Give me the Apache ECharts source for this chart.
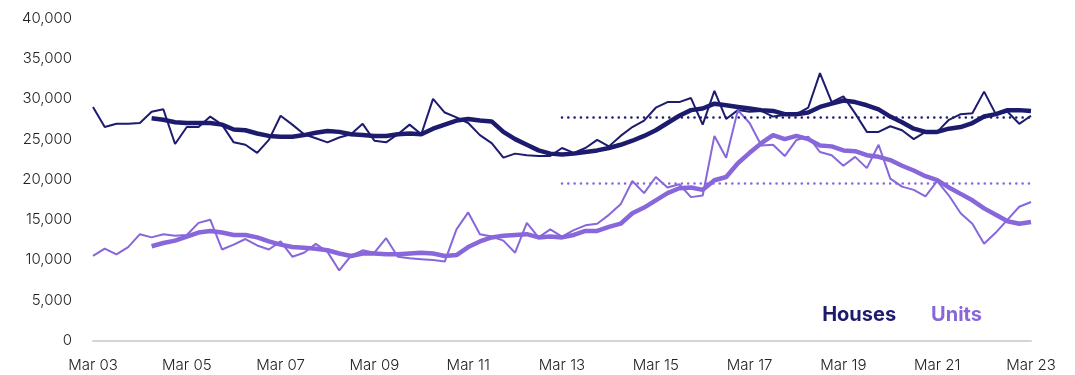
<!DOCTYPE html>
<html>
<head>
<meta charset="utf-8">
<script src="https://cdn.jsdelivr.net/npm/echarts@6/dist/echarts.min.js"></script>
<style>
html,body{margin:0;padding:0;background:#fff;}
#chart{width:1075px;height:375px;}
</style>
</head>
<body>
<div id="chart"></div>
<script>
// Quarterly categories, Mar 03 .. Mar 23
const categories = [
 'Mar 03','Jun 03','Sep 03','Dec 03','Mar 04','Jun 04','Sep 04','Dec 04',
 'Mar 05','Jun 05','Sep 05','Dec 05','Mar 06','Jun 06','Sep 06','Dec 06',
 'Mar 07','Jun 07','Sep 07','Dec 07','Mar 08','Jun 08','Sep 08','Dec 08',
 'Mar 09','Jun 09','Sep 09','Dec 09','Mar 10','Jun 10','Sep 10','Dec 10',
 'Mar 11','Jun 11','Sep 11','Dec 11','Mar 12','Jun 12','Sep 12','Dec 12',
 'Mar 13','Jun 13','Sep 13','Dec 13','Mar 14','Jun 14','Sep 14','Dec 14',
 'Mar 15','Jun 15','Sep 15','Dec 15','Mar 16','Jun 16','Sep 16','Dec 16',
 'Mar 17','Jun 17','Sep 17','Dec 17','Mar 18','Jun 18','Sep 18','Dec 18',
 'Mar 19','Jun 19','Sep 19','Dec 19','Mar 20','Jun 20','Sep 20','Dec 20',
 'Mar 21','Jun 21','Sep 21','Dec 21','Mar 22','Jun 22','Sep 22','Dec 22',
 'Mar 23'
];

// Houses quarterly (thousands)
const housesQuarterly = [
 29.0,26.5,26.9,26.9,27.0,28.4,28.7,24.4,26.5,26.5,
 27.8,26.8,24.6,24.3,23.3,24.9,27.9,26.8,25.6,25.1,
 24.6,25.2,25.6,26.9,24.8,24.6,25.6,26.8,25.6,30.0,
 28.3,27.7,27.0,25.5,24.5,22.7,23.2,23.0,22.9,22.9,
 23.9,23.3,23.9,24.9,24.1,25.4,26.5,27.3,28.9,29.6,
 29.6,30.1,26.8,31.0,27.5,28.6,28.4,28.5,27.8,28.0,
 28.1,28.9,33.2,29.6,30.3,28.2,25.9,25.9,26.6,26.1,
 25.0,25.9,25.9,27.4,28.1,28.2,30.9,28.1,28.4,26.9,
 27.9
];
// Houses rolling average (thousands)
const housesTrend = [
 null,null,null,null,null,27.6,27.4,27.1,27.0,27.0,
 27.0,26.8,26.2,26.1,25.7,25.4,25.3,25.3,25.5,25.8,
 26.0,25.9,25.6,25.5,25.4,25.4,25.6,25.7,25.6,26.3,
 26.8,27.3,27.5,27.3,27.2,25.9,25.0,24.3,23.6,23.2,
 23.1,23.2,23.4,23.6,23.9,24.3,24.8,25.4,26.1,27.0,
 27.9,28.6,28.8,29.4,29.2,29.0,28.8,28.6,28.5,28.1,
 28.1,28.3,29.0,29.4,29.8,29.6,29.2,28.7,27.8,27.1,
 26.3,25.9,25.9,26.3,26.5,27.0,27.8,28.1,28.6,28.6,
 28.5
];
// Units quarterly (thousands)
const unitsQuarterly = [
 10.5,11.4,10.7,11.6,13.2,12.8,13.2,13.0,13.1,14.6,
 15.0,11.3,11.9,12.6,11.8,11.3,12.3,10.4,10.9,12.0,
 11.0,8.7,10.5,11.2,10.9,12.7,10.4,10.2,10.1,10.0,
 9.8,13.8,15.9,13.2,12.9,12.4,10.9,14.6,12.8,13.8,
 12.9,13.7,14.3,14.5,15.6,16.9,19.8,18.3,20.3,19.0,
 19.4,17.8,18.0,25.4,22.7,28.6,27.0,24.2,24.3,22.9,
 24.9,25.3,23.4,23.0,21.7,22.8,21.4,24.3,20.1,19.1,
 18.7,17.9,19.8,18.0,15.8,14.5,12.0,13.4,15.0,16.6,
 17.2
];
// Units rolling average (thousands)
const unitsTrend = [
 null,null,null,null,null,11.7,12.1,12.4,12.9,13.4,
 13.6,13.4,13.1,13.1,12.8,12.3,11.9,11.6,11.5,11.4,
 11.2,10.8,10.5,10.8,10.8,10.7,10.7,10.8,10.9,10.8,
 10.5,10.6,11.6,12.3,12.8,13.0,13.1,13.2,12.8,12.9,
 12.8,13.1,13.6,13.6,14.1,14.5,15.8,16.5,17.4,18.3,
 18.9,19.0,18.7,19.9,20.3,22.0,23.3,24.5,25.5,25.0,
 25.4,25.0,24.2,24.1,23.6,23.5,23.0,22.8,22.4,21.7,
 21.1,20.4,19.9,19.0,18.2,17.4,16.4,15.6,14.8,14.5,
 14.7
];
// Ten-year averages (dotted reference lines)
const avgStart = 'Mar 13';
const avgEnd = 'Mar 23';
const housesAvg = 27.7;
const unitsAvg = 19.5;

const yTicks = [0, 5000, 10000, 15000, 20000, 25000, 30000, 35000, 40000];

const HOUSE = '#1c1b6e';
const UNIT = '#8767da';
const k = v => (v === null ? null : Math.round(v * 1000));

const chart = echarts.init(document.getElementById('chart'), null, {renderer: 'canvas'});
chart.setOption({
  animation: false,
  backgroundColor: '#ffffff',
  grid: {left: 93, right: 44, top: 18.3, bottom: 34.5, containLabel: false},
  legend: {
    data: [
      {name: 'Houses', icon: 'none', textStyle: {color: HOUSE}},
      {name: 'Units', icon: 'none', textStyle: {color: UNIT}}
    ],
    right: 88, top: 300,
    itemWidth: 0, itemHeight: 0, itemGap: 30,
    selectedMode: false,
    textStyle: {fontFamily: 'Inter', fontWeight: 'bold', fontSize: 20, padding: 0}
  },
  xAxis: {
    type: 'category',
    data: categories,
    boundaryGap: false,
    axisLine: {lineStyle: {color: '#d4d4d4', width: 2}},
    axisTick: {show: false},
    axisLabel: {
      interval: 7, margin: 17, color: '#222', fontSize: 15,
      fontFamily: 'Inter', fontWeight: 300
    },
    splitLine: {show: false}
  },
  yAxis: {
    type: 'value',
    min: yTicks[0], max: yTicks[yTicks.length - 1], interval: 5000,
    axisLine: {show: false},
    axisTick: {show: false},
    splitLine: {show: false},
    axisLabel: {
      margin: 21, color: '#222', fontSize: 15, fontFamily: 'Inter', fontWeight: 300,
      formatter: v => v.toLocaleString('en-US')
    }
  },
  series: [
    {
      name: 'Houses', type: 'line', data: housesTrend.map(k), showSymbol: false,
      lineStyle: {color: HOUSE, width: 4.5}, itemStyle: {color: HOUSE}, z: 2,
      markLine: {
        silent: true, symbol: 'none', label: {show: false},
        lineStyle: {color: HOUSE, width: 2.6, type: [0.01, 6.3], cap: 'round'},
        data: [[{coord: [avgStart, housesAvg * 1000]}, {coord: [avgEnd, housesAvg * 1000]}]]
      }
    },
    {
      name: 'Units', type: 'line', data: unitsTrend.map(k), showSymbol: false,
      lineStyle: {color: UNIT, width: 4.5}, itemStyle: {color: UNIT}, z: 2,
      markLine: {
        silent: true, symbol: 'none', label: {show: false},
        lineStyle: {color: UNIT, width: 2.6, type: [0.01, 6.3], cap: 'round'},
        data: [[{coord: [avgStart, unitsAvg * 1000]}, {coord: [avgEnd, unitsAvg * 1000]}]]
      }
    },
    {
      name: 'Houses quarterly', type: 'line', data: housesQuarterly.map(k), showSymbol: false,
      lineStyle: {color: HOUSE, width: 2}, itemStyle: {color: HOUSE}, z: 3
    },
    {
      name: 'Units quarterly', type: 'line', data: unitsQuarterly.map(k), showSymbol: false,
      lineStyle: {color: UNIT, width: 2}, itemStyle: {color: UNIT}, z: 3
    }
  ]
});
</script>
</body>
</html>
